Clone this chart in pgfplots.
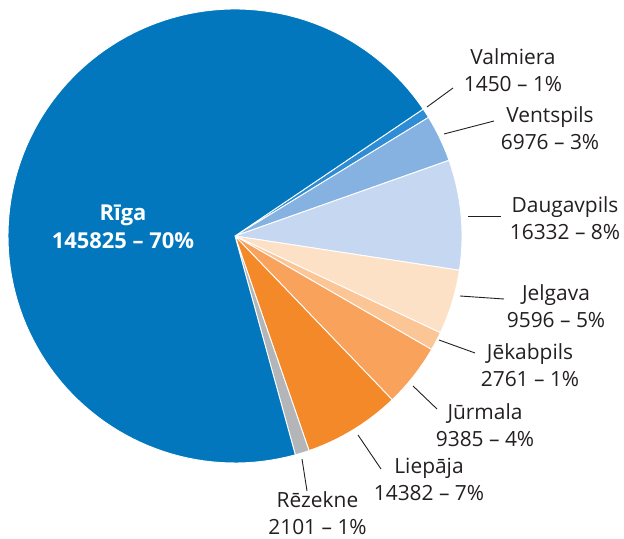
\documentclass[border=0pt]{standalone}
\usepackage{pgfplots}
\usepackage{pgfplotstable}
\pgfplotsset{compat=1.18}
\usepackage{fontspec}
\setmainfont{Open Sans}
\definecolor{cRiga}{HTML}{0277BD}
\definecolor{cValm}{HTML}{2E8DD5}
\definecolor{cVent}{HTML}{85B2E0}
\definecolor{cDaug}{HTML}{C6D8F1}
\definecolor{cJelg}{HTML}{FDE1C6}
\definecolor{cJeka}{HTML}{FCC596}
\definecolor{cJurm}{HTML}{F8A25C}
\definecolor{cLiep}{HTML}{F4892A}
\definecolor{cReze}{HTML}{B3B5B8}
\definecolor{txt}{HTML}{231F20}

\pgfplotstableread{
idx value
0 1450
1 6976
2 16332
3 9596
4 2761
5 9385
6 14382
7 2101
8 145825
}\pietable

\gdef\total{0}
\pgfplotsforeachungrouped \i in {0,...,8}{%
  \pgfplotstablegetelem{\i}{value}\of\pietable
  \xdef\total{\fpeval{\total+\pgfplotsretval}}%
}
\gdef\astart{34}
\newcommand\slice[2]{%
  \pgfplotstablegetelem{#1}{value}\of\pietable
  \edef\sweep{\fpeval{360*\pgfplotsretval/\total}}%
  \edef\aend{\fpeval{\astart-\sweep}}%
  \edef\doplot{\noexpand\addplot[fill=#2, draw=white, line width=0.9pt, domain=\aend:\astart, samples=120]
    ({235+227*cos(x)},{303+227*sin(x)}) -- (axis cs:235,303) -- cycle;}%
  \doplot
  \global\let\astart\aend
}

\begin{document}
\begin{tikzpicture}
\begin{axis}[
  scale only axis, width=624bp, height=539bp,
  xmin=0, xmax=624, ymin=0, ymax=539,
  hide axis, clip=false,
]
\path (rel axis cs:0,0) rectangle (rel axis cs:1,1);
\slice{0}{cValm}
\slice{1}{cVent}
\slice{2}{cDaug}
\slice{3}{cJelg}
\slice{4}{cJeka}
\slice{5}{cJurm}
\slice{6}{cLiep}
\slice{7}{cReze}
\slice{8}{cRiga}

% leader lines
\addplot[txt, line width=0.9pt] coordinates {(427,432) (453,451)};
\addplot[txt, line width=0.9pt] coordinates {(444,405) (494,418)};
\addplot[txt, line width=0.9pt] coordinates {(468,323) (501,323)};
\addplot[txt, line width=0.9pt] coordinates {(460,243) (504,240)};
\addplot[txt, line width=0.9pt] coordinates {(439,199) (475,186)};
\addplot[txt, line width=0.9pt] coordinates {(413,153) (437,130)};
\addplot[txt, line width=0.9pt] coordinates {(358,104) (381,70)};
\addplot[txt, line width=0.9pt] coordinates {(302,80) (307,48)};

\tikzset{lab/.style={align=center, text=txt, font=\fontsize{21}{27}\selectfont, inner sep=0pt}}
\node[lab] at (axis cs:513,469) {Valmiera\\1450 – 1\%};
\node[lab] at (axis cs:550,410.5) {Ventspils\\6976 – 3\%};
\node[lab] at (axis cs:565,320.5) {Daugavpils\\16332 – 8\%};
\node[lab] at (axis cs:556,232.5) {Jelgava\\9596 – 5\%};
\node[lab] at (axis cs:530,173.5) {Jēkabpils\\2761 – 1\%};
\node[lab] at (axis cs:485,114) {Jūrmala\\9385 – 4\%};
\node[lab] at (axis cs:429,59.5) {Liepāja\\14382 – 7\%};
\node[lab] at (axis cs:317.5,26) {Rēzekne\\2101 – 1\%};
\node[lab, text=white, font=\bfseries\fontsize{22}{28}\selectfont] at (axis cs:123,312) {Rīga\\145825 – 70\%};
\end{axis}
\end{tikzpicture}
\end{document}
